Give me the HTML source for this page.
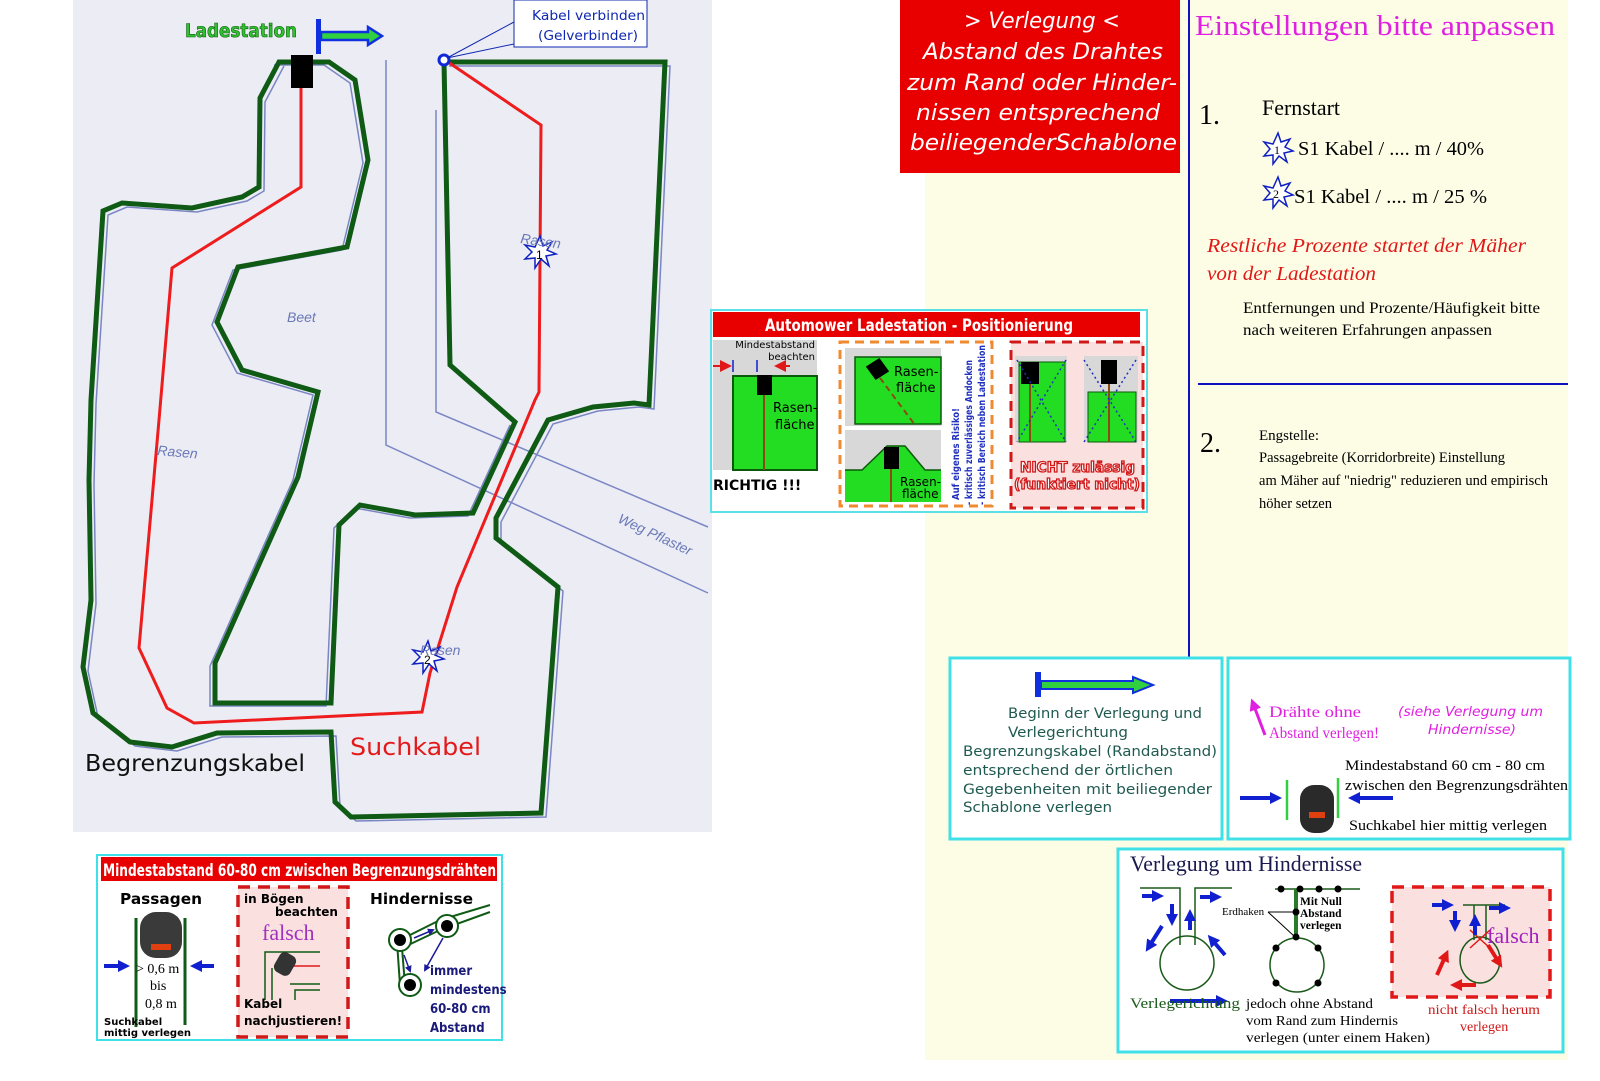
<!DOCTYPE html>
<html><head><meta charset="utf-8"><style>
html,body{margin:0;padding:0;background:#fff;}
svg{display:block;}
.s{font-family:"Liberation Serif",serif;}
.n{font-family:"DejaVu Sans Condensed","Liberation Sans Narrow","Liberation Sans",sans-serif;}
.d{font-family:"DejaVu Sans","Liberation Sans",sans-serif;}
.a{font-family:"Liberation Sans",sans-serif;}
</style></head><body>
<svg width="1600" height="1081" viewBox="0 0 1600 1081" xmlns="http://www.w3.org/2000/svg">
<defs>
<marker id="bh" markerUnits="userSpaceOnUse" markerWidth="12" markerHeight="12" refX="4" refY="6" orient="auto"><path d="M0,0L12,6L0,12z" fill="#1020d0"/></marker>
<marker id="rh" markerUnits="userSpaceOnUse" markerWidth="12" markerHeight="12" refX="4" refY="6" orient="auto"><path d="M0,0L12,6L0,12z" fill="#e01818"/></marker>
<marker id="mh" markerUnits="userSpaceOnUse" markerWidth="12" markerHeight="12" refX="4" refY="6" orient="auto"><path d="M0,0L12,6L0,12z" fill="#e020e0"/></marker>
<marker id="nh" markerUnits="userSpaceOnUse" markerWidth="7" markerHeight="7" refX="5" refY="3.5" orient="auto"><path d="M0,0L7,3.5L0,7z" fill="#1a1a9a"/></marker>
</defs>
<rect x="925" y="0" width="643" height="1060" fill="#fdfde6"/>
<rect x="73" y="0" width="639" height="832" fill="#ecedf4"/>

<g fill="none" stroke="#7a86c4" stroke-width="1.5">
<path d="M386,60 L386,445 L708,593"/>
<path d="M436,110 L436,412 L708,527"/>
<polyline transform="translate(-5,3)" points="279,62 329,62 355,80 368,160 347,247 238,267 217,322 242,370 318,392 298,477 215,663 215,703 331,703 339,525 360,505 415,515 473,513 515,422"/>
<polyline transform="translate(5,4)" points="444,62 665,62 649,405 634,403 593,407 548,420 496,518 496,538 558,587 541,813 351,817 335,802 331,732 217,733 172,747 130,742 93,713 83,667 91,600 89,480 91,400 103,211 122,203 192,208 242,197 259,187 260,98 279,62"/>
</g>
<polygon fill="none" stroke="#0f5a14" stroke-width="5" points="279,62 329,62 355,80 368,160 347,247 238,267 217,322 242,370 318,392 298,477 215,663 215,703 331,703 339,525 360,505 415,515 473,513 515,422 450,365 444,62 665,62 649,405 634,403 593,407 548,420 496,518 496,538 558,587 541,813 351,817 335,802 331,732 217,733 172,747 130,742 93,713 83,667 91,600 89,480 91,400 103,211 122,203 192,208 242,197 259,187 260,98"/>
<polyline fill="none" stroke="#ee1c1c" stroke-width="3" points="301,85 301,187 172,268 159,420 139,648 167,708 194,723 422,712 430,673 457,587 535,400 539,392 541,125 448,62"/>
<circle cx="444" cy="60" r="5" fill="#fff" stroke="#1028d8" stroke-width="3"/>
<rect x="291" y="55" width="22" height="33" fill="#000"/>
<g stroke="#1020c0" stroke-width="1.5" fill="#fff">
<polygon points="540,236 543,246 552,242 547,250 556,254 546,256 549,266 541,259 535,268 535,258 525,259 532,252 525,245 535,247"/>
<polygon points="428,641 431,651 440,647 435,655 444,659 434,661 437,671 429,664 423,673 423,663 413,664 420,657 413,650 423,652"/>
</g>
<text x="536" y="259" class="a" font-size="12">1</text>
<text x="424" y="664" class="a" font-size="12">2</text>
<g fill="#6a78b8" class="a" font-style="italic" font-size="14">
<text x="520" y="243" transform="rotate(8 520 243)">Rasen</text>
<text x="287" y="322">Beet</text>
<text x="157" y="455" transform="rotate(5 157 455)">Rasen</text>
<text x="420" y="655">Rasen</text>
<text x="617" y="522" transform="rotate(25 617 522)">Weg Pflaster</text>
</g>
<text x="185" y="37" class="n" font-size="19" font-weight="bold" fill="#30c030" stroke="#106010" stroke-width="0.6" textLength="112" lengthAdjust="spacingAndGlyphs">Ladestation</text>
<rect x="316" y="19" width="5" height="35" fill="#1030e0"/>
<path d="M321,32 L368,32 L368,27 L382,36 L368,45 L368,40 L321,40z" fill="#30d040" stroke="#1030e0" stroke-width="2.5"/>
<path d="M447,58 L514,22 M447,58 L514,44" stroke="#1028b0" fill="none"/>
<rect x="514" y="0" width="133" height="47" fill="#fff" stroke="#1028b0"/>
<text x="532" y="20" class="d" font-size="13" fill="#1028b0" textLength="113" lengthAdjust="spacingAndGlyphs">Kabel verbinden</text>
<text x="538" y="40" class="d" font-size="13" fill="#1028b0" textLength="100" lengthAdjust="spacingAndGlyphs">(Gelverbinder)</text>
<text x="85" y="771" class="d" font-size="23" fill="#111" textLength="220" lengthAdjust="spacingAndGlyphs">Begrenzungskabel</text>
<text x="350" y="755" class="d" font-size="24" fill="#e31a1a" textLength="131" lengthAdjust="spacingAndGlyphs">Suchkabel</text>

<rect x="900" y="0" width="280" height="173" fill="#e80000"/>
<g class="d" font-style="italic" font-size="22" fill="#fff">
<text x="964" y="28" textLength="156" lengthAdjust="spacingAndGlyphs">&gt; Verlegung &lt;</text>
<text x="923" y="59" textLength="240" lengthAdjust="spacingAndGlyphs">Abstand des Drahtes</text>
<text x="907" y="90" textLength="270" lengthAdjust="spacingAndGlyphs">zum Rand oder Hinder-</text>
<text x="916" y="120" textLength="244" lengthAdjust="spacingAndGlyphs">nissen entsprechend</text>
<text x="910" y="150" textLength="267" lengthAdjust="spacingAndGlyphs">beiliegenderSchablone</text>
</g>

<line x1="1189" y1="0" x2="1189" y2="660" stroke="#1010c0" stroke-width="2"/>
<line x1="1198" y1="384" x2="1568" y2="384" stroke="#1010c0" stroke-width="2"/>
<text x="1195" y="35" class="s" font-size="29" fill="#e020e0" textLength="360" lengthAdjust="spacingAndGlyphs">Einstellungen bitte anpassen</text>
<text x="1199" y="124" class="s" font-size="28">1.</text>
<text x="1262" y="115" class="s" font-size="22" textLength="78" lengthAdjust="spacingAndGlyphs">Fernstart</text>
<g stroke="#1020c0" stroke-width="1.5" fill="#fff">
<polygon points="1278,133 1281,142 1290,139 1285,147 1293,151 1284,153 1287,162 1279,156 1273,164 1273,155 1264,156 1270,149 1264,142 1273,144"/>
<polygon points="1278,177 1281,186 1290,183 1285,191 1293,195 1284,197 1287,206 1279,200 1273,208 1273,199 1264,200 1270,193 1264,186 1273,188"/>
</g>
<text x="1274" y="154" class="s" font-size="12">1</text>
<text x="1273" y="198" class="s" font-size="12">2</text>
<text x="1298" y="155" class="s" font-size="20" textLength="186" lengthAdjust="spacingAndGlyphs">S1 Kabel / .... m / 40%</text>
<text x="1294" y="203" class="s" font-size="20" textLength="193" lengthAdjust="spacingAndGlyphs">S1 Kabel / .... m / 25 %</text>
<text x="1207" y="252" class="s" font-style="italic" font-size="20" fill="#e01818" textLength="319" lengthAdjust="spacingAndGlyphs">Restliche Prozente  startet der Mäher</text>
<text x="1207" y="280" class="s" font-style="italic" font-size="20" fill="#e01818" textLength="169" lengthAdjust="spacingAndGlyphs">von der Ladestation</text>
<text x="1243" y="313" class="s" font-size="16" textLength="297" lengthAdjust="spacingAndGlyphs">Entfernungen und Prozente/Häufigkeit bitte</text>
<text x="1243" y="335" class="s" font-size="16" textLength="249" lengthAdjust="spacingAndGlyphs">nach weiteren Erfahrungen anpassen</text>
<text x="1200" y="452" class="s" font-size="28">2.</text>
<g class="s" font-size="15">
<text x="1259" y="440">Engstelle:</text>
<text x="1259" y="462" textLength="246" lengthAdjust="spacingAndGlyphs">Passagebreite (Korridorbreite) Einstellung</text>
<text x="1259" y="485" textLength="289" lengthAdjust="spacingAndGlyphs">am Mäher auf "niedrig" reduzieren und empirisch</text>
<text x="1259" y="508" textLength="73" lengthAdjust="spacingAndGlyphs">höher setzen</text>
</g>

<rect x="711" y="310" width="436" height="202" fill="#fff" stroke="#5ce0e8" stroke-width="2"/>
<rect x="713" y="312" width="427" height="25" fill="#e80000"/>
<text x="765" y="331" class="n" font-size="17" font-weight="bold" fill="#fff" textLength="308" lengthAdjust="spacingAndGlyphs">Automower Ladestation - Positionierung</text>
<rect x="713" y="340" width="104" height="130" fill="#d8d8d8"/>
<rect x="733" y="376" width="84" height="94" fill="#22dd22" stroke="#0a5a0a" stroke-width="2"/>
<rect x="757" y="375" width="15" height="20" fill="#000"/>
<line x1="764" y1="395" x2="764" y2="470" stroke="#8a4a10" stroke-width="2"/>
<text x="815" y="348" class="d" font-size="10" text-anchor="end">Mindestabstand</text>
<text x="815" y="360" class="d" font-size="10" text-anchor="end">beachten</text>
<line x1="713" y1="366" x2="724" y2="366" stroke="#e01818" stroke-width="2" marker-end="url(#rh)"/>
<line x1="790" y1="366" x2="782" y2="366" stroke="#e01818" stroke-width="2" marker-end="url(#rh)"/>
<line x1="733" y1="360" x2="733" y2="372" stroke="#1020d0" stroke-width="1.5"/>
<line x1="757" y1="360" x2="757" y2="372" stroke="#1020d0" stroke-width="1.5"/>
<text x="773" y="412" class="d" font-size="13">Rasen-</text>
<text x="775" y="429" class="d" font-size="13">fläche</text>
<text x="713" y="490" class="d" font-size="14" font-weight="bold">RICHTIG !!!</text>
<rect x="840" y="342" width="152" height="164" fill="#fff" stroke="#f08a30" stroke-width="3" stroke-dasharray="9,6"/>
<rect x="845" y="348" width="96" height="78" fill="#d8d8d8"/>
<rect x="855" y="357" width="86" height="67" fill="#22dd22" stroke="#0a5a0a" stroke-width="1.5"/>
<polygon points="868,367 879,360 887,371 876,378" fill="#000" stroke="#000" stroke-width="3"/>
<line x1="880" y1="378" x2="915" y2="425" stroke="#8a4a10" stroke-width="2" stroke-dasharray="6,4"/>
<text x="894" y="376" class="d" font-size="13">Rasen-</text>
<text x="896" y="392" class="d" font-size="13">fläche</text>
<rect x="845" y="430" width="96" height="72" fill="#d8d8d8"/>
<polygon points="845,470 862,470 887,446 905,446 925,470 941,470 941,502 845,502" fill="#22dd22"/>
<polyline points="845,470 862,470 887,446 905,446 925,470 941,470" fill="none" stroke="#0a5a0a" stroke-width="1.5"/>
<rect x="884" y="447" width="15" height="22" fill="#000"/>
<line x1="891" y1="469" x2="891" y2="502" stroke="#8a4a10" stroke-width="2"/>
<text x="900" y="486" class="d" font-size="12">Rasen-</text>
<text x="902" y="498" class="d" font-size="12">fläche</text>
<g class="n" font-size="10" font-weight="bold" fill="#2030c0">
<text transform="translate(959,500) rotate(-90)" textLength="92" lengthAdjust="spacingAndGlyphs">Auf eigenes Risiko!</text>
<text transform="translate(972,505) rotate(-90)" textLength="145" lengthAdjust="spacingAndGlyphs">- kritisch zuverlässiges Andocken</text>
<text transform="translate(985,505) rotate(-90)" textLength="160" lengthAdjust="spacingAndGlyphs">- kritisch Bereich neben Ladestation</text>
</g>
<rect x="1011" y="342" width="132" height="166" fill="#fbe0e0" stroke="#d01818" stroke-width="3" stroke-dasharray="10,7"/>
<rect x="1015" y="356" width="52" height="86" fill="#d8d8d8"/>
<rect x="1019" y="362" width="46" height="80" fill="#22dd22" stroke="#0a5a0a"/>
<rect x="1021" y="362" width="18" height="22" fill="#000"/>
<line x1="1030" y1="384" x2="1030" y2="442" stroke="#8a4a10" stroke-width="2"/>
<rect x="1084" y="356" width="54" height="86" fill="#d8d8d8"/>
<rect x="1088" y="392" width="48" height="50" fill="#22dd22" stroke="#0a5a0a"/>
<rect x="1101" y="360" width="16" height="24" fill="#000"/>
<line x1="1109" y1="384" x2="1109" y2="442" stroke="#8a4a10" stroke-width="2"/>
<g stroke="#2030c0" stroke-width="1.5" stroke-dasharray="2,3">
<line x1="1017" y1="360" x2="1066" y2="442"/><line x1="1066" y1="360" x2="1017" y2="442"/>
<line x1="1084" y1="360" x2="1136" y2="442"/><line x1="1136" y1="360" x2="1084" y2="442"/>
</g>
<text x="1020" y="472" class="n" font-size="14" font-weight="bold" fill="#fff" stroke="#d01818" stroke-width="1.2" textLength="115" lengthAdjust="spacingAndGlyphs">NICHT zulässig</text>
<text x="1014" y="489" class="n" font-size="14" font-weight="bold" fill="#fff" stroke="#d01818" stroke-width="1.2" textLength="126" lengthAdjust="spacingAndGlyphs">(funktiert nicht)</text>

<rect x="950" y="658" width="272" height="181" fill="#fff" stroke="#40e0e8" stroke-width="3"/>
<rect x="1035" y="672" width="6" height="25" fill="#1030e0"/>
<path d="M1041,681 L1133,681 L1133,677 L1153,685 L1133,693 L1133,689 L1041,689z" fill="#30d040" stroke="#1030e0" stroke-width="2"/>
<g class="d" font-size="14.5" fill="#1f5a50">
<text x="1008" y="718" textLength="194" lengthAdjust="spacingAndGlyphs">Beginn der Verlegung und</text>
<text x="1008" y="737" textLength="120" lengthAdjust="spacingAndGlyphs">Verlegerichtung</text>
<text x="963" y="756" textLength="254" lengthAdjust="spacingAndGlyphs">Begrenzungskabel (Randabstand)</text>
<text x="963" y="775" textLength="210" lengthAdjust="spacingAndGlyphs">entsprechend der örtlichen</text>
<text x="963" y="794" textLength="249" lengthAdjust="spacingAndGlyphs">Gegebenheiten mit beiliegender</text>
<text x="963" y="812" textLength="149" lengthAdjust="spacingAndGlyphs">Schablone verlegen</text>
</g>
<rect x="1228" y="658" width="342" height="181" fill="#fff" stroke="#40e0e8" stroke-width="3"/>
<line x1="1265" y1="735" x2="1254" y2="706" stroke="#e020e0" stroke-width="3" marker-end="url(#mh)"/>
<text x="1269" y="717" class="s" font-size="16" fill="#e020e0" textLength="92" lengthAdjust="spacingAndGlyphs">Drähte ohne</text>
<text x="1269" y="738" class="s" font-size="16" fill="#e020e0" textLength="110" lengthAdjust="spacingAndGlyphs">Abstand verlegen!</text>
<text x="1398" y="716" class="d" font-style="italic" font-size="13" fill="#e020e0" textLength="145" lengthAdjust="spacingAndGlyphs">(siehe Verlegung um</text>
<text x="1428" y="734" class="d" font-style="italic" font-size="13" fill="#e020e0" textLength="88" lengthAdjust="spacingAndGlyphs">Hindernisse)</text>
<text x="1345" y="770" class="s" font-size="15" textLength="200" lengthAdjust="spacingAndGlyphs">Mindestabstand 60 cm - 80 cm</text>
<text x="1345" y="790" class="s" font-size="15" textLength="223" lengthAdjust="spacingAndGlyphs">zwischen den Begrenzungsdrähten</text>
<text x="1349" y="830" class="s" font-size="15" textLength="198" lengthAdjust="spacingAndGlyphs">Suchkabel hier mittig verlegen</text>
<line x1="1240" y1="798" x2="1274" y2="798" stroke="#1020d0" stroke-width="4" marker-end="url(#bh)"/>
<line x1="1393" y1="798" x2="1356" y2="798" stroke="#1020d0" stroke-width="4" marker-end="url(#bh)"/>
<line x1="1287" y1="780" x2="1287" y2="820" stroke="#30d040" stroke-width="2.5"/>
<line x1="1338" y1="778" x2="1338" y2="818" stroke="#30d040" stroke-width="2.5"/>
<rect x="1300" y="785" width="34" height="48" rx="14" fill="#2a2a2a"/>
<rect x="1309" y="812" width="16" height="6" fill="#e04010"/>

<rect x="1118" y="849" width="445" height="203" fill="#fff" stroke="#40e0e8" stroke-width="3"/>
<text x="1130" y="871" class="s" font-size="22" fill="#1a1a50" textLength="232" lengthAdjust="spacingAndGlyphs">Verlegung um Hindernisse</text>
<g fill="none" stroke="#1a5a1a" stroke-width="1.5">
<path d="M1140,888 L1180,888 L1180,945 M1195,945 L1195,888 L1232,888"/>
<circle cx="1187" cy="963" r="27"/>
<path d="M1275,889 L1360,889"/>
<circle cx="1297" cy="965" r="27"/>
<ellipse cx="1482" cy="963" rx="20" ry="24"/>
</g>
<line x1="1296" y1="889" x2="1296" y2="938" stroke="#2a7a2a" stroke-width="4"/>
<g fill="#000">
<circle cx="1281" cy="889" r="3.5"/><circle cx="1300" cy="889" r="3.5"/><circle cx="1319" cy="889" r="3.5"/><circle cx="1338" cy="889" r="3.5"/><circle cx="1296" cy="912" r="3.5"/><circle cx="1296" cy="937" r="3.5"/>
<circle cx="1276" cy="948" r="3.5"/><circle cx="1318" cy="948" r="3.5"/><circle cx="1276" cy="983" r="3.5"/><circle cx="1318" cy="983" r="3.5"/>
</g>
<path d="M1268,912 L1294,912 M1268,912 L1294,936" stroke="#000" fill="none"/>
<text x="1222" y="915" class="s" font-size="11">Erdhaken</text>
<text x="1300" y="905" class="s" font-size="11.5" font-weight="bold">Mit Null</text>
<text x="1300" y="917" class="s" font-size="11.5" font-weight="bold">Abstand</text>
<text x="1300" y="929" class="s" font-size="11.5" font-weight="bold">verlegen</text>
<g stroke="#1020d0" stroke-width="4">
<line x1="1142" y1="896" x2="1156" y2="896" marker-end="url(#bh)"/>
<line x1="1200" y1="897" x2="1214" y2="897" marker-end="url(#bh)"/>
<line x1="1172" y1="904" x2="1172" y2="918" marker-end="url(#bh)"/>
<line x1="1190" y1="930" x2="1190" y2="917" marker-end="url(#bh)"/>
<line x1="1162" y1="926" x2="1150" y2="945" marker-end="url(#bh)"/>
<line x1="1225" y1="955" x2="1213" y2="941" marker-end="url(#bh)"/>
<line x1="1170" y1="1001" x2="1220" y2="1001" marker-end="url(#bh)"/>
</g>
<text x="1130" y="1008" class="s" font-size="15" fill="#1a5a1a" textLength="110" lengthAdjust="spacingAndGlyphs">Verlegerichtung</text>
<text x="1246" y="1008" class="s" font-size="14" textLength="127" lengthAdjust="spacingAndGlyphs">jedoch ohne Abstand</text>
<text x="1246" y="1025" class="s" font-size="14" textLength="152" lengthAdjust="spacingAndGlyphs">vom Rand zum Hindernis</text>
<text x="1246" y="1042" class="s" font-size="14" textLength="184" lengthAdjust="spacingAndGlyphs">verlegen (unter einem Haken)</text>
<rect x="1392" y="887" width="158" height="110" fill="#fbe0e0" stroke="#e01818" stroke-width="3.5" stroke-dasharray="12,8"/>
<g fill="none" stroke="#1a5a1a" stroke-width="1.5">
<path d="M1463,905 L1505,905 M1474,905 L1474,940 M1486,940 L1486,905"/>
<ellipse cx="1480" cy="960" rx="20" ry="23"/>
</g>
<path d="M1470,930 L1490,948 M1490,930 L1470,948" stroke="#e01818" stroke-width="1.5"/>
<g stroke="#1020d0" stroke-width="4">
<line x1="1432" y1="905" x2="1446" y2="905" marker-end="url(#bh)"/>
<line x1="1489" y1="908" x2="1503" y2="908" marker-end="url(#bh)"/>
<line x1="1455" y1="911" x2="1455" y2="924" marker-end="url(#bh)"/>
<line x1="1475" y1="935" x2="1475" y2="922" marker-end="url(#bh)"/>
</g>
<g stroke="#e01818" stroke-width="4">
<line x1="1437" y1="975" x2="1445" y2="957" marker-end="url(#rh)"/>
<line x1="1488" y1="945" x2="1498" y2="961" marker-end="url(#rh)"/>
<line x1="1476" y1="985" x2="1458" y2="985" marker-end="url(#rh)"/>
</g>
<text x="1487" y="943" class="s" font-size="22" fill="#a020c0">falsch</text>
<text x="1428" y="1014" class="s" font-size="14" fill="#d01818" textLength="112" lengthAdjust="spacingAndGlyphs">nicht falsch herum</text>
<text x="1460" y="1031" class="s" font-size="14" fill="#d01818">verlegen</text>

<rect x="97" y="855" width="405" height="185" fill="#fff" stroke="#40e0e8" stroke-width="2"/>
<rect x="101" y="857" width="396" height="24" fill="#e80000"/>
<text x="103" y="876" class="n" font-size="17" font-weight="bold" fill="#fff" textLength="393" lengthAdjust="spacingAndGlyphs">Mindestabstand 60-80 cm zwischen Begrenzungsdrähten</text>
<text x="120" y="904" class="d" font-size="15" font-weight="bold" textLength="82" lengthAdjust="spacingAndGlyphs">Passagen</text>
<line x1="136" y1="918" x2="136" y2="1027" stroke="#0f5a14" stroke-width="3"/>
<line x1="185" y1="918" x2="185" y2="1025" stroke="#0f5a14" stroke-width="3"/>
<rect x="140" y="912" width="42" height="46" rx="16" fill="#3a3a3a"/>
<rect x="151" y="944" width="20" height="6" fill="#e04010"/>
<line x1="104" y1="966" x2="122" y2="966" stroke="#1020d0" stroke-width="4" marker-end="url(#bh)"/>
<line x1="214" y1="966" x2="198" y2="966" stroke="#1020d0" stroke-width="4" marker-end="url(#bh)"/>
<text x="136" y="973" class="s" font-size="14">&gt; 0,6 m</text>
<text x="150" y="990" class="s" font-size="14">bis</text>
<text x="145" y="1008" class="s" font-size="14">0,8 m</text>
<text x="104" y="1025" class="d" font-size="10" font-weight="bold">Suchkabel</text>
<text x="104" y="1036" class="d" font-size="10" font-weight="bold">mittig verlegen</text>
<rect x="238" y="887" width="110" height="150" fill="#fbe0e0" stroke="#d01818" stroke-width="3.5" stroke-dasharray="12,8"/>
<text x="244" y="903" class="d" font-size="12" font-weight="bold">in Bögen</text>
<text x="275" y="916" class="d" font-size="12" font-weight="bold">beachten</text>
<text x="262" y="940" class="s" font-size="22" fill="#a030c0">falsch</text>
<path d="M265,1000 L265,952 L320,952 M272,1000 L272,968 M290,984 L320,984 M295,1000 L295,990 L320,990" fill="none" stroke="#0f5a14" stroke-width="1.5"/>
<path d="M290,966 L320,966" stroke="#e01818" stroke-width="1.5"/>
<rect x="276" y="953" width="18" height="22" rx="6" fill="#333" transform="rotate(30 285 964)"/>
<text x="244" y="1008" class="d" font-size="12" font-weight="bold">Kabel</text>
<text x="244" y="1025" class="d" font-size="12" font-weight="bold">nachjustieren!</text>
<text x="370" y="904" class="d" font-size="15" font-weight="bold" textLength="103" lengthAdjust="spacingAndGlyphs">Hindernisse</text>
<path d="M400,940 L440,920 L490,905 M402,948 L440,930 L490,912 M402,948 L405,985 M397,942 L400,985" fill="none" stroke="#0f5a14" stroke-width="2"/>
<g fill="#fff" stroke="#0f5a14" stroke-width="2"><circle cx="400" cy="940" r="11"/><circle cx="447" cy="926" r="11"/><circle cx="410" cy="985" r="11"/></g>
<g fill="#000"><circle cx="400" cy="940" r="6"/><circle cx="447" cy="926" r="6"/><circle cx="410" cy="985" r="6"/></g>
<line x1="414" y1="938" x2="433" y2="930" stroke="#1a1a9a" stroke-width="1.5" marker-end="url(#nh)"/>
<line x1="443" y1="938" x2="425" y2="970" stroke="#1a1a9a" stroke-width="1.5" marker-end="url(#nh)"/>
<line x1="404" y1="955" x2="410" y2="971" stroke="#1a1a9a" stroke-width="1.5" marker-end="url(#nh)"/>
<g class="n" font-size="13" font-weight="bold" fill="#1a1a7a">
<text x="430" y="975">immer</text>
<text x="430" y="994">mindestens</text>
<text x="430" y="1013">60-80 cm</text>
<text x="430" y="1032">Abstand</text>
</g>
</svg>
</body></html>
